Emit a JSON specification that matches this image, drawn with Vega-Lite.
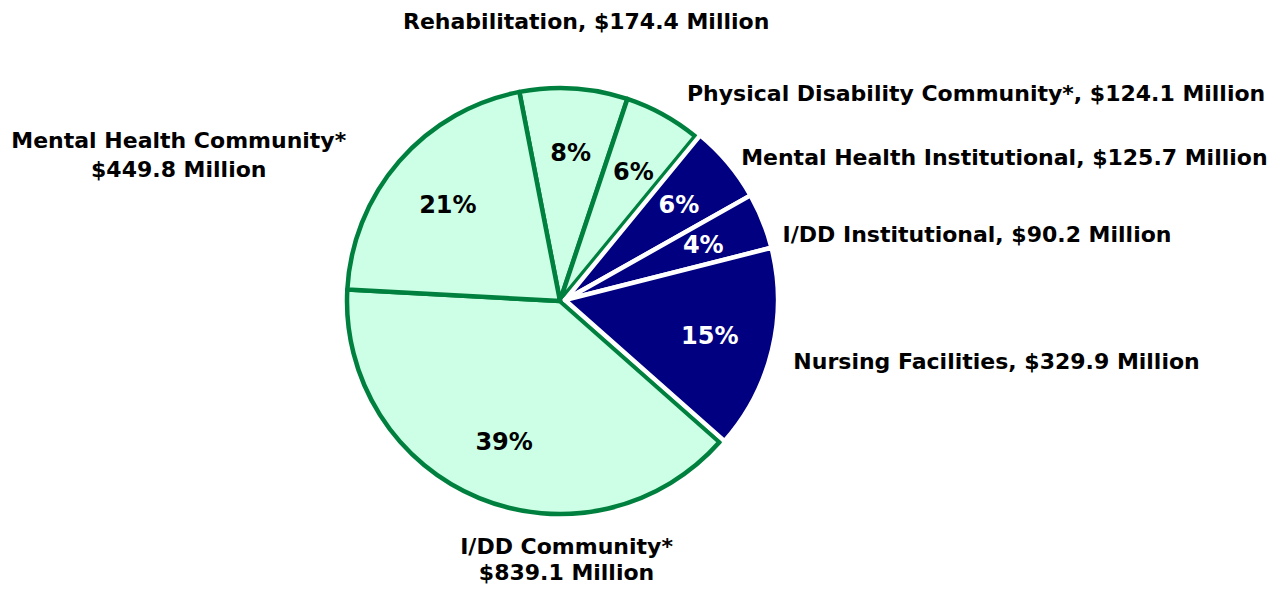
{
  "$schema": "https://vega.github.io/schema/vega-lite/v6.json",
  "width": 1286,
  "height": 594,
  "autosize": {"type": "none"},
  "padding": 0,
  "background": "white",
  "config": {"view": {"stroke": null}, "text": {"font": "DejaVu Sans", "fontWeight": "bold"}},
  "data": {"values": [
    {"name": "Rehabilitation", "value": 174.4, "grp": "community", "ord": 1, "pct": "8%", "label": "Rehabilitation, $174.4 Million"},
    {"name": "Physical Disability Community*", "value": 124.1, "grp": "community", "ord": 2, "pct": "6%", "label": "Physical Disability Community*, $124.1 Million"},
    {"name": "I/DD Community*", "value": 839.1, "grp": "community", "ord": 6, "pct": "39%", "label": "I/DD Community*\n$839.1 Million"},
    {"name": "Mental Health Community*", "value": 449.8, "grp": "community", "ord": 7, "pct": "21%", "label": "Mental Health Community*\n$449.8 Million"},
    {"name": "Mental Health Institutional", "value": 125.7, "grp": "institutional", "ord": 3, "pct": "6%", "label": "Mental Health Institutional, $125.7 Million"},
    {"name": "I/DD Institutional", "value": 90.2, "grp": "institutional", "ord": 4, "pct": "4%", "label": "I/DD Institutional, $90.2 Million"},
    {"name": "Nursing Facilities", "value": 329.9, "grp": "institutional", "ord": 5, "pct": "15%", "label": "Nursing Facilities, $329.9 Million"}
  ]},
  "encoding": {
    "theta": {"field": "value", "type": "quantitative", "stack": true, "scale": {"range": [-0.192, 6.0912]}},
    "order": {"field": "ord", "type": "quantitative"}
  },
  "layer": [
    {
      "mark": {"type": "arc", "outerRadius": 213, "fill": "#CCFFE5", "stroke": "#00803E", "strokeWidth": 4.5, "strokeJoin": "round", "xOffset": -83, "yOffset": 4},
      "encoding": {"opacity": {"condition": {"test": "datum.grp === 'community'", "value": 1}, "value": 0}}
    },
    {
      "mark": {"type": "arc", "outerRadius": 213, "fill": "#000080", "stroke": "white", "strokeWidth": 4.5, "strokeJoin": "round", "xOffset": -78, "yOffset": 3},
      "encoding": {"opacity": {"condition": {"test": "datum.grp === 'institutional'", "value": 1}, "value": 0}}
    },
    {
      "mark": {"type": "text", "radius": 150, "fontSize": 24, "fill": "black", "align": "center", "baseline": "middle", "xOffset": -83, "yOffset": 4, "dx": 1, "dy": 3},
      "encoding": {"text": {"condition": {"test": "datum.grp === 'community'", "field": "pct", "type": "nominal"}, "value": ""}}
    },
    {
      "mark": {"type": "text", "radius": 150, "fontSize": 24, "fill": "white", "align": "center", "baseline": "middle", "xOffset": -78, "yOffset": 3, "dx": -1, "dy": 2},
      "encoding": {"text": {"condition": {"test": "datum.grp === 'institutional'", "field": "pct", "type": "nominal"}, "value": ""}}
    },
    {
      "mark": {"type": "text", "radius": 280, "fontSize": 22, "align": "center", "baseline": "middle", "xOffset": -83, "yOffset": 4, "dx": 8, "dy": 0},
      "encoding": {"text": {"condition": {"test": "datum.ord === 1", "field": "label", "type": "nominal"}, "value": ""}}
    },
    {
      "mark": {"type": "text", "radius": 240, "fontSize": 22, "align": "left", "baseline": "middle", "xOffset": -83, "yOffset": 4, "dx": 11, "dy": 3},
      "encoding": {"text": {"condition": {"test": "datum.ord === 2", "field": "label", "type": "nominal"}, "value": ""}}
    },
    {
      "mark": {"type": "text", "radius": 230, "fontSize": 22, "align": "left", "baseline": "middle", "xOffset": -83, "yOffset": 4, "dx": 5, "dy": 5},
      "encoding": {"text": {"condition": {"test": "datum.ord === 3", "field": "label", "type": "nominal"}, "value": ""}}
    },
    {
      "mark": {"type": "text", "radius": 230, "fontSize": 22, "align": "left", "baseline": "middle", "xOffset": -83, "yOffset": 4, "dx": 9, "dy": 19},
      "encoding": {"text": {"condition": {"test": "datum.ord === 4", "field": "label", "type": "nominal"}, "value": ""}}
    },
    {
      "mark": {"type": "text", "radius": 235, "fontSize": 22, "align": "left", "baseline": "middle", "xOffset": -83, "yOffset": 4, "dx": 5, "dy": 6},
      "encoding": {"text": {"condition": {"test": "datum.ord === 5", "field": "label", "type": "nominal"}, "value": ""}}
    },
    {
      "mark": {"type": "text", "radius": 286, "fontSize": 22, "align": "center", "baseline": "middle", "lineBreak": "\n", "lineHeight": 26, "xOffset": -83, "yOffset": 4, "dx": 115, "dy": -19},
      "encoding": {"text": {"condition": {"test": "datum.ord === 6", "field": "label", "type": "nominal"}, "value": ""}}
    },
    {
      "mark": {"type": "text", "radius": 300, "fontSize": 22, "align": "center", "baseline": "middle", "lineBreak": "\n", "lineHeight": 29, "xOffset": -83, "yOffset": 4, "dx": -155, "dy": 37},
      "encoding": {"text": {"condition": {"test": "datum.ord === 7", "field": "label", "type": "nominal"}, "value": ""}}
    }
  ]
}
